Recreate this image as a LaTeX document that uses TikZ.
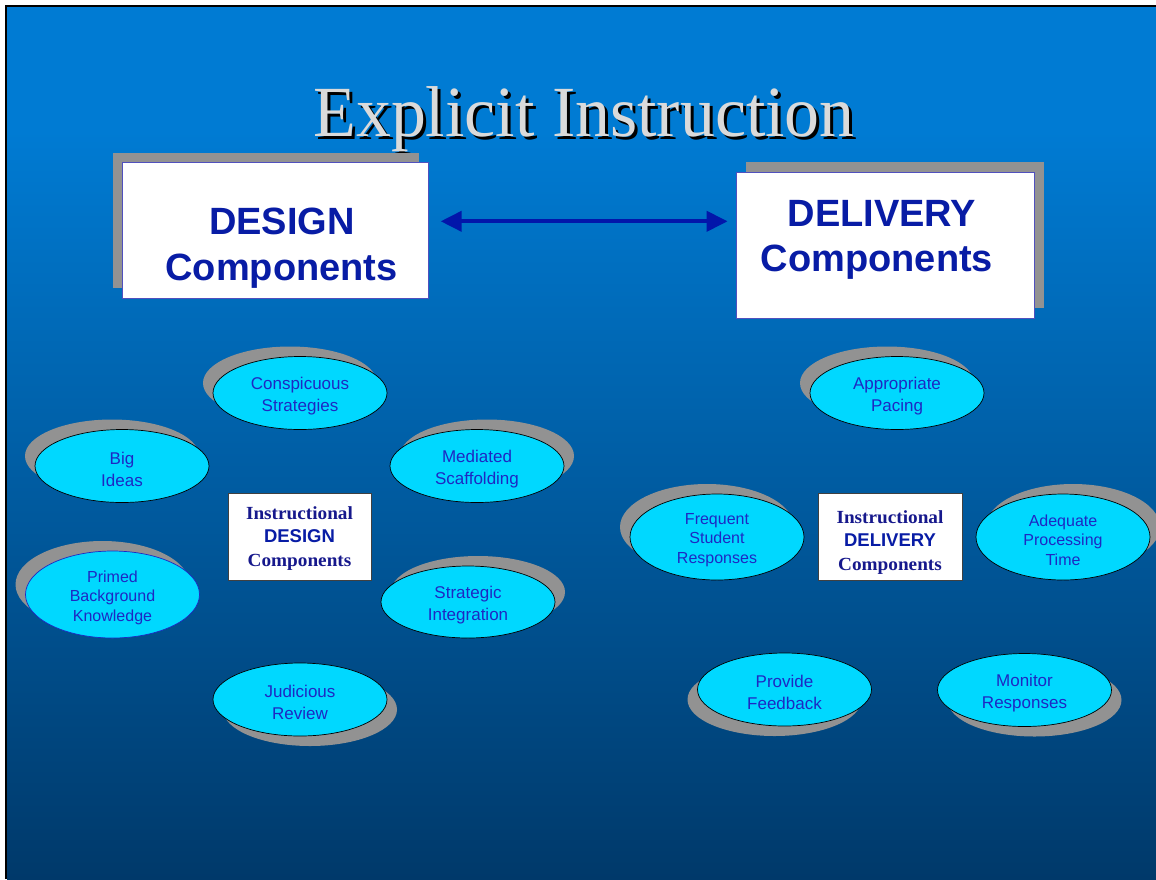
\documentclass[tikz,border=0pt]{standalone}
\usepackage{fontspec}
\setmainfont{Liberation Serif}
\setsansfont{Liberation Sans}
\usetikzlibrary{shapes.geometric,arrows.meta}
\definecolor{bgtop}{RGB}{0,123,211}
\definecolor{bgbot}{RGB}{0,57,106}
\definecolor{shadowgray}{RGB}{146,146,146}
\definecolor{ellfill}{RGB}{0,216,255}
\definecolor{ellink}{RGB}{30,40,195}
\definecolor{boxink}{RGB}{8,28,165}
\definecolor{navyink}{RGB}{22,24,140}
\definecolor{arrowblue}{RGB}{2,22,170}
\definecolor{titlegray}{RGB}{218,218,218}
\definecolor{boxedge}{RGB}{80,80,190}
\pgfdeclareverticalshading{slidebg}{100bp}{color(0bp)=(bgbot); color(25bp)=(bgbot); color(67.9bp)=(bgtop); color(100bp)=(bgtop)}
% #1 ellipse options, #2 text options, #3 name, #4 x, #5 y, #6 shadow dx, #7 shadow dy, #8 y radius, #9 text
\newcommand\bub[9]{%
  \fill[shadowgray] (#4+#6,#5+#7) ellipse [x radius=87, y radius=#8];
  \node[bubble,#1,minimum height=2*#8] (#3) at (#4,#5) {};
  \node[bubbletext,#2] (#3-text) at (#4,#5+3) {#9};}
\begin{document}
\begin{tikzpicture}[x=1pt,y=-1pt,
  bubble/.style={ellipse, draw=black, line width=0.7pt, fill=ellfill, minimum width=174pt, inner sep=0pt},
  bubbletext/.style={inner sep=0pt, align=center, text=ellink, font=\sffamily\fontsize{17}{22}\selectfont},
  three/.style={font=\sffamily\fontsize{16}{19.5}\selectfont},
  bigbox/.style={draw=boxedge, line width=0.8pt, fill=white, inner sep=0pt},
  bigtext/.style={text=boxink, font=\sffamily\bfseries\fontsize{38}{46}\selectfont, anchor=base, inner sep=0pt},
  centerbox/.style={draw=black!75, line width=0.9pt, fill=white, inner sep=0pt, minimum width=143pt, minimum height=87pt},
  serifline/.style={text=navyink, font=\rmfamily\bfseries\fontsize{18.5}{22}\selectfont, anchor=base, inner sep=0pt, xscale=1.04},
  sansline/.style={text=boxink, font=\sffamily\bfseries\fontsize{18.5}{22}\selectfont, anchor=base, inner sep=0pt},
  titletext/.style={font=\rmfamily\fontsize{72}{80}\selectfont, anchor=base, inner sep=0pt, xscale=0.97},
  link/.style={arrowblue, line width=4pt, {Triangle[length=21pt,width=20pt]}-{Triangle[length=21pt,width=20pt]}}
]
\useasboundingbox (0,0) rectangle (1156,879);
% slide background
\fill[white] (0,0) rectangle (1156,879);
\fill[black] (5,5) rectangle (1156,879);
\shade[shading=slidebg] (7,7) rectangle (1156,879);

% title
\node[titletext, text=black] (titleshadow) at (587,139) {Explicit Instruction};
\node[titletext, text=titlegray] (title) at (584,136.5) {Explicit Instruction};

% big boxes
\fill[shadowgray] (112.7,152.7) rectangle (419,288);
\node[bigbox, minimum width=306pt, minimum height=135.6pt] (design) at (275.3,230.5) {};
\node[bigtext] (designA) at (282,234) {DESIGN};
\node[bigtext] (designB) at (281.5,280.5) {Components};

\fill[shadowgray] (746,161.5) rectangle (1044,307.5);
\node[bigbox, minimum width=297.5pt, minimum height=145.5pt] (delivery) at (885.25,245.25) {};
\node[bigtext] (deliveryA) at (882,226.5) {DELIVERY};
\node[bigtext] (deliveryB) at (877,271.5) {Components};

\coordinate (arrowrow) at (0,221.3);
\draw[link, shorten <=12pt, shorten >=8.5pt] (design.east |- arrowrow) -- (delivery.west |- arrowrow);

% design cluster
\bub{}{}{consp}{300}{393}{-10}{-10}{36.5}{Conspicuous\\Strategies}
\bub{}{}{bigideas}{122}{466}{-10}{-10}{36.5}{Big\\Ideas}
\bub{}{}{mediated}{477}{466}{10}{-10}{36.5}{Mediated\\Scaffolding}
\bub{draw=ellink}{three}{primed}{112.5}{594.5}{-10}{-10}{43.5}{Primed\\Background\\Knowledge}
\bub{}{}{strategic}{468}{602}{10}{-10}{36}{Strategic\\Integration}
\bub{}{}{judicious}{300}{699.5}{10}{10}{36.5}{Judicious\\Review}

\node[centerbox] (designcenter) at (299.5,536.5) {};
\node[serifline] (dc1) at (299.5,519.3) {Instructional};
\node[sansline] (dc2) at (299.5,542.5) {DESIGN};
\node[serifline] (dc3) at (299.5,566) {Components};

% delivery cluster
\bub{}{}{pacing}{897}{393}{-10}{-10}{36.5}{Appropriate\\Pacing}
\bub{}{three}{frequent}{717}{537}{-10}{-10}{43}{Frequent\\Student\\Responses}
\bub{}{three}{adequate}{1063}{537}{10}{-10}{43}{Adequate\\Processing\\Time}
\bub{}{}{feedback}{784.5}{689.5}{-10}{10}{36.5}{Provide\\Feedback}
\bub{}{}{monitor}{1024.5}{690}{10}{10}{36.5}{Monitor\\Responses}

\node[centerbox, minimum width=144pt] (deliverycenter) at (890,536.5) {};
\node[serifline] (vc1) at (890,523) {Instructional};
\node[sansline] (vc2) at (890,546.5) {DELIVERY};
\node[serifline] (vc3) at (890,570) {Components};
\end{tikzpicture}
\end{document}
